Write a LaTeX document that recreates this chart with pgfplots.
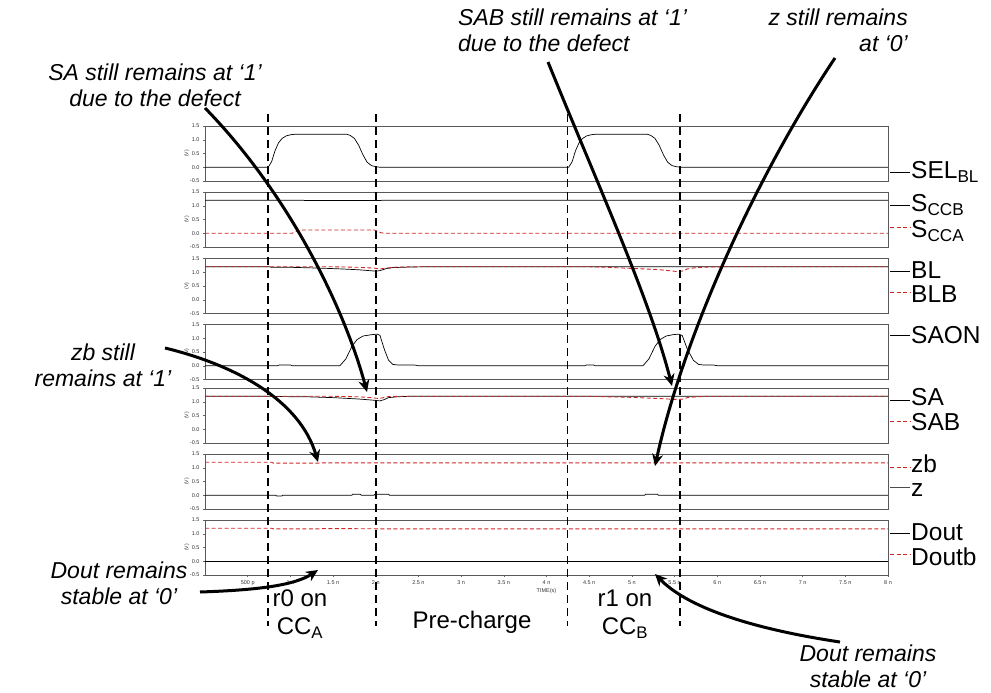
\documentclass[border=0pt]{standalone}
\usepackage{fontspec}
\setmainfont{Liberation Sans}
\usepackage{pgfplots}
\pgfplotsset{compat=1.18}
\usetikzlibrary{arrows.meta}
\definecolor{wred}{RGB}{205,40,40}
\pgfplotsset{
 panel/.style={
  scale only axis, width=683pt, height=55pt, xmin=0, xmax=8, ymin=-0.5, ymax=1.5,
  anchor=north west,
  ytick={-0.5,0,0.5,1,1.5}, yticklabels={-0.5,0.0,0.5,1.0,1.5},
  xtick=\empty,
  tick align=outside, major tick length=2pt, ytick pos=left, xtick pos=bottom,
  tick style={black!60, line width=0.4pt},
  ticklabel style={font=\fontsize{5.5}{6}\selectfont, text=black!80},
  axis line style={black!65, line width=0.8pt},
  ylabel={(V)}, ylabel style={font=\fontsize{5}{6}\selectfont, text=black!80}, ylabel shift=-6pt,
 },
 sig/.style={black, line width=0.7pt},
 sigr/.style={wred, line width=0.9pt, dash pattern=on 4pt off 2.5pt},
}
\begin{document}
\begin{tikzpicture}
\begin{scope}[x=1pt,y=-1pt]
\useasboundingbox (0,0) rectangle (991,693);
\end{scope}

% Panel 1: SEL_BL
\begin{axis}[panel, at={(205pt,-126pt)}]
\addplot[sig] coordinates {(0,0)(0.74,0)(0.78,0.2)(0.82,0.6)(0.86,0.88)(0.9,1.04)(0.95,1.14)(1.0,1.18)(1.05,1.2)(1.66,1.2)(1.7,1.16)(1.75,1.05)(1.8,0.8)(1.85,0.45)(1.9,0.18)(1.95,0.06)(2.0,0.02)(2.05,0)(4.26,0)(4.3,0.2)(4.34,0.6)(4.38,0.88)(4.42,1.04)(4.47,1.14)(4.52,1.18)(4.57,1.2)(5.18,1.2)(5.22,1.16)(5.27,1.05)(5.32,0.8)(5.37,0.45)(5.42,0.18)(5.47,0.06)(5.52,0.02)(5.57,0)(8,0)};
\end{axis}

% Panel 2: SCCB / SCCA
\begin{axis}[panel, at={(205pt,-192pt)}]
\addplot[sig] coordinates {(0,1.2)(1.15,1.2)(1.17,1.19)(2.05,1.19)(2.08,1.2)(8,1.2)};
\addplot[sigr] coordinates {(0,0)(1.02,0)(1.06,0.05)(1.1,0.1)(1.15,0.12)(1.98,0.12)(2.02,0.08)(2.06,0.02)(2.1,0)(8,0)};
\end{axis}

% Panel 3: BL / BLB
\begin{axis}[panel, at={(205pt,-258.5pt)}]
\addplot[sig] coordinates {(0,1.2)(0.75,1.2)(0.78,1.18)(1.0,1.18)(1.35,1.15)(1.6,1.12)(1.8,1.09)(2.0,1.04)(2.05,1.06)(2.12,1.13)(2.2,1.17)(2.4,1.19)(2.6,1.2)(8,1.2)};
\addplot[sigr] coordinates {(0,1.2)(1.5,1.2)(1.8,1.18)(1.98,1.15)(2.05,1.12)(2.1,1.14)(2.2,1.18)(2.4,1.2)(4.5,1.2)(4.7,1.18)(5.0,1.14)(5.3,1.1)(5.55,1.02)(5.6,1.05)(5.65,1.12)(5.75,1.17)(5.9,1.19)(6.1,1.2)(8,1.2)};
\end{axis}

% Panel 4: SAON
\begin{axis}[panel, at={(205pt,-324.5pt)}]
\addplot[sig] coordinates {(0,0)(0.85,0)(0.87,0.03)(1.0,0.03)(1.02,0)(1.58,0)(1.65,0.25)(1.72,0.7)(1.78,0.95)(1.85,1.08)(1.95,1.13)(2.02,1.15)(2.05,1.1)(2.1,0.6)(2.15,0.2)(2.2,0.05)(2.25,0.03)(2.45,0.03)(2.5,0)(4.45,0)(4.47,0.03)(4.55,0.03)(4.57,0)(5.13,0)(5.2,0.25)(5.27,0.7)(5.33,0.95)(5.4,1.08)(5.48,1.13)(5.55,1.15)(5.59,1.1)(5.65,0.6)(5.72,0.2)(5.78,0.05)(5.83,0.03)(5.95,0.03)(6.0,0)(8,0)};
\end{axis}

% Panel 5: SA / SAB
\begin{axis}[panel, at={(205pt,-388pt)}]
\addplot[sig] coordinates {(0,1.2)(0.75,1.2)(0.8,1.19)(1.2,1.18)(1.5,1.15)(1.8,1.1)(2.0,1.05)(2.05,1.03)(2.1,1.08)(2.15,1.15)(2.25,1.18)(2.4,1.2)(8,1.2)};
\addplot[sigr] coordinates {(0,1.2)(1.5,1.2)(1.8,1.18)(1.95,1.15)(2.03,1.12)(2.08,1.14)(2.15,1.19)(2.3,1.2)(4.5,1.2)(4.7,1.18)(5.0,1.16)(5.3,1.12)(5.55,1.08)(5.6,1.1)(5.65,1.15)(5.75,1.18)(5.9,1.2)(8,1.2)};
\end{axis}

% Panel 6: zb / z
\begin{axis}[panel, at={(205pt,-454pt)}]
\addplot[sigr] coordinates {(0,1.2)(0.78,1.2)(0.8,1.17)(1.35,1.17)(1.4,1.18)(8,1.18)};
\addplot[sig] coordinates {(0,0)(0.83,0)(0.84,-0.03)(0.9,-0.03)(0.91,0)(1.72,0)(1.73,0.04)(1.82,0.04)(1.83,0)(1.98,0)(1.99,0.04)(2.15,0.04)(2.16,0)(5.15,0)(5.16,0.04)(5.3,0.04)(5.31,0)(8,0)};
\end{axis}

% Panel 7: Dout / Doutb
\begin{axis}[panel, at={(205pt,-520pt)},
  xtick={0.5,1,...,8},
  xticklabels={500 p,1 n,1.5 n,2 n,2.5 n,3 n,3.5 n,4 n,4.5 n,5 n,5.5 n,6 n,6.5 n,7 n,7.5 n,8 n},
  xlabel={TIME(s)}, xlabel style={font=\fontsize{5.5}{6}\selectfont, text=black!80, yshift=4pt}]
\addplot[sigr] coordinates {(0,1.2)(0.78,1.2)(0.8,1.18)(1.35,1.18)(1.4,1.19)(2.0,1.18)(8,1.18)};
\addplot[sig] coordinates {(0,0)(8,0)};
\end{axis}

\begin{scope}[x=1pt,y=-1pt]
% vertical dashed markers
\foreach \xx in {268,376,567.5,680}
  \draw[black, line width=1.8pt, dash pattern=on 8pt off 5pt] (\xx,114) -- (\xx,626);

% right-side labels
\tikzset{lab/.style={anchor=west, inner sep=0pt, font=\fontsize{24.5}{26}\selectfont}}
\draw[black, line width=0.8pt] (890,172) -- (910,172); \node[lab] at (911,172) {SEL\textsubscript{BL}};
\draw[black, line width=0.8pt] (890,205) -- (910,205); \node[lab] at (911,205) {S\textsubscript{CCB}};
\draw[wred, line width=0.9pt, dash pattern=on 4pt off 2.5pt] (890,227) -- (910,227); \node[lab] at (911,231) {S\textsubscript{CCA}};
\draw[black, line width=0.8pt] (890,271) -- (910,271); \node[lab] at (911,270) {BL};
\draw[wred, line width=0.9pt, dash pattern=on 4pt off 2.5pt] (890,292) -- (910,292); \node[lab] at (911,294) {BLB};
\draw[black, line width=0.8pt] (890,335) -- (910,335); \node[lab] at (911,335) {SAON};
\draw[black, line width=0.8pt] (890,400) -- (910,400); \node[lab] at (911,397) {SA};
\draw[wred, line width=0.9pt, dash pattern=on 4pt off 2.5pt] (890,421) -- (910,421); \node[lab] at (911,422) {SAB};
\draw[wred, line width=0.9pt, dash pattern=on 4pt off 2.5pt] (890,467) -- (910,467); \node[lab] at (911,464) {zb};
\draw[black!70, line width=0.8pt] (890,487) -- (910,487); \node[lab] at (911,490) {z};
\draw[black, line width=0.8pt] (890,533) -- (910,533); \node[lab] at (911,532) {Dout};
\draw[wred, line width=0.9pt, dash pattern=on 4pt off 2.5pt] (890,554) -- (910,554); \node[lab] at (911,557) {Doutb};

% annotations
\tikzset{ann/.style={inner sep=0pt, font=\fontsize{23}{26}\selectfont\itshape},
         annu/.style={inner sep=0pt, font=\fontsize{24}{28}\selectfont}}
\node[ann, align=center] at (155,85) {SA still remains at ‘1’\\due to the defect};
\node[ann, align=left, anchor=west] at (458,30) {SAB still remains at ‘1’\\due to the defect};
\node[ann, align=right, anchor=east] at (908,30) {z still remains\\at ‘0’};
\node[ann, align=center] at (103,365) {zb still\\remains at ‘1’};
\node[ann, align=center] at (119,583) {Dout remains\\stable at ‘0’};
\node[ann, align=center] at (868,666) {Dout remains\\stable at ‘0’};
\node[annu, align=center] at (300,614) {r0 on\\CC\textsubscript{A}};
\node[annu] at (472,622) {Pre-charge};
\node[annu, align=center] at (625,614) {r1 on\\CC\textsubscript{B}};

% arrows
\tikzset{arr/.style={black, line width=3pt, -{Stealth[length=12pt,width=11pt]}}}
\draw[arr] (205,108) .. controls (290,195) and (345,310) .. (367,392);
\draw[arr] (548,62) .. controls (600,190) and (650,300) .. (672,386);
\draw[arr] (835,58) .. controls (760,170) and (685,330) .. (655,466);
\draw[arr] (165,348) .. controls (235,365) and (300,400) .. (318,462);
\draw[arr] (200,592) .. controls (260,590) and (295,585) .. (318,570);
\draw[arr] (840,642) .. controls (760,630) and (690,610) .. (655,574);
\end{scope}
\end{tikzpicture}
\end{document}
